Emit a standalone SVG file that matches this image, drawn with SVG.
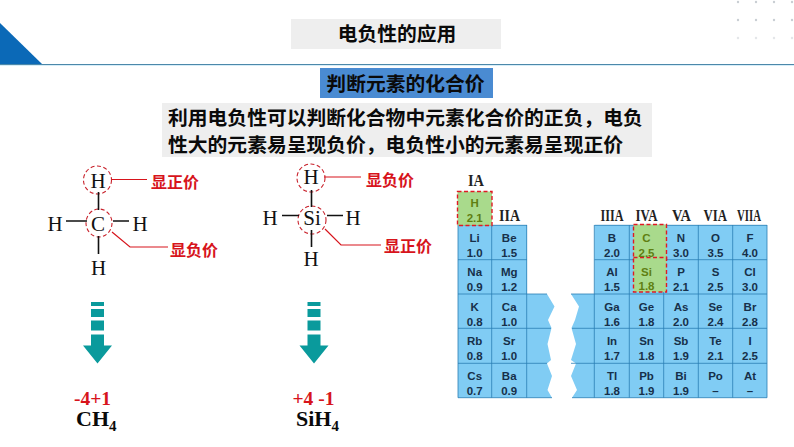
<svg xmlns="http://www.w3.org/2000/svg" width="794" height="447" viewBox="0 0 794 447">
<style>
.cjk{font-family:"Noto Sans CJK SC","Noto Sans",sans-serif;font-weight:700;fill:#0a0a0a}
.head{font-size:19.8px;text-anchor:middle}
.body{font-size:19.8px}
.red{font-family:"Noto Sans CJK SC","Noto Sans",sans-serif;font-weight:700;font-size:16px;fill:#d7141c}
.atom{font-family:"Liberation Serif",serif;font-size:21px;fill:#111;text-anchor:middle}
.bond{stroke:#111;stroke-width:1.6;fill:none}
.lead{stroke:#d7141c;stroke-width:1.2;fill:none}
.ring{stroke:#c8202a;stroke-width:1.1;stroke-dasharray:4 2.5;fill:none}
.charge{font-family:"Liberation Serif",serif;font-weight:700;font-size:19.5px;fill:#d7141c}
.formula{font-family:"Liberation Serif",serif;font-weight:700;font-size:22px;fill:#0a0a0a}
.sub{font-size:15px}
.bar{fill:#0a9a9c}
.cell{font-family:"Liberation Sans",Arial,sans-serif;font-weight:700;font-size:11.5px;fill:#17304a;text-anchor:middle}
.grn{fill:#5f7f12}
.grid{stroke:#2a7db4;stroke-width:.8;fill:none}
.grp{font-family:"Liberation Serif",serif;font-weight:700;font-size:16px;fill:#222}
.dash{fill:#a9da8c;stroke:#e01a24;stroke-width:1.4;stroke-dasharray:4 2.5}
.dot{fill:#c9ced3}
</style>
<rect width="794" height="447" fill="#fff"/>
<g id="decor">
<path d="M0 23L42 64H0Z" fill="#0b69b7"/>
<rect x="0" y="64" width="794" height="1" fill="#4c88aa"/>
<rect x="0" y="65" width="794" height="1" fill="#d6edf8"/>
<g class="dot"><circle cx="738" cy="2" r="1.2"/><circle cx="756" cy="2" r="1.2"/><circle cx="774" cy="2" r="1.2"/><circle cx="792" cy="2" r="1.2"/><circle cx="738" cy="20" r="1.2"/><circle cx="756" cy="20" r="1.2"/><circle cx="774" cy="20" r="1.2"/><circle cx="792" cy="20" r="1.2"/></g>
<g class="dot" opacity=".5"><circle cx="738" cy="38" r="1.2"/><circle cx="756" cy="38" r="1.2"/><circle cx="774" cy="38" r="1.2"/><circle cx="792" cy="38" r="1.2"/></g>
</g>
<g id="title"><rect x="291" y="19" width="210" height="30" fill="#eeeeee"/><text class="cjk head" x="397" y="41">电负性的应用</text></g>
<g id="subtitle"><rect x="320" y="68" width="173" height="30" fill="#4a8bd2"/><text class="cjk head" x="405.500" y="91">判断元素的化合价</text></g>
<g id="description"><rect x="162" y="103" width="490" height="54" fill="#eeeeee"/>
<text class="cjk body" x="168" y="125">利用电负性可以判断化合物中元素化合价的正负，电负</text>
<text class="cjk body" x="168" y="152">性大的元素易呈现负价，电负性小的元素易呈现正价</text></g>

<g id="ch4">
<circle class="ring" cx="97.500" cy="180" r="14"/><ellipse class="ring" cx="99" cy="223" rx="13" ry="14"/>
<path class="bond" d="M98.500 192V210M98.500 236V254M66 221H87M113 221H129"/>
<text class="atom" x="98" y="188">H</text><text class="atom" x="55" y="231">H</text><text class="atom" x="98" y="231">C</text><text class="atom" x="140" y="231">H</text><text class="atom" x="98.500" y="275">H</text>
<path class="lead" d="M112 179.500H147M112 232L130 247H168"/>
<text class="red" x="151" y="188">显正价</text><text class="red" x="170" y="256">显负价</text>
</g>
<g id="sih4">
<circle class="ring" cx="311" cy="178" r="14"/><circle class="ring" cx="312" cy="220" r="14"/>
<path class="bond" d="M311.500 190V207M311.500 230V247M282 215.500H299M327 215.500H343"/>
<text class="atom" x="311" y="184">H</text><text class="atom" x="270" y="225">H</text><text class="atom" x="312" y="225">Si</text><text class="atom" x="353" y="225">H</text><text class="atom" x="311" y="266">H</text>
<path class="lead" d="M324 177H361M325 229L341 245H381"/>
<text class="red" x="366" y="186">显负价</text><text class="red" x="384" y="252">显正价</text>
</g>

<g id="arrow-ch4" class="bar"><rect x="91" y="302" width="13" height="4"/><rect x="91" y="309" width="13" height="8"/><rect x="91" y="320.500" width="13" height="10"/><path d="M91 334.500H104V345.500H112L97.500 363.500L83 345.500H91Z"/></g>
<g id="arrow-sih4" class="bar"><rect x="307.500" y="302" width="13" height="4"/><rect x="307.500" y="309" width="13" height="8"/><rect x="307.500" y="320.500" width="13" height="10"/><path d="M307.500 334.500H320.500V345.500H328.500L314 363.500L299.500 345.500H307.500Z"/></g>

<g id="formula-ch4"><text class="charge" x="74" y="405">-4+1</text><text class="formula" x="76" y="426">CH<tspan class="sub" dy="5">4</tspan></text></g>
<g id="formula-sih4"><text class="charge" x="292.500" y="405" xml:space="preserve">+4 -1</text><text class="formula" x="296" y="426">SiH<tspan class="sub" dy="5">4</tspan></text></g>

<g id="periodic-table">
<path d="M458 225H527V294H547L554.500 306.500L548 320L551.500 328L547.500 344L551 360L547 363.500L552 376L547.500 390L552 397.700H458Z" fill="#80ccf4"/>
<path d="M594.500 225H767V397.700H572L577 390L571 376L576 363.500L571 360L576 344L571.500 328L575 320L579 306.500L571 294H594.500Z" fill="#80ccf4"/>
<path class="grid" d="M458 225.300H527M594.500 225.300H767M458 259.700H527M594.500 259.700H767M458 294H547M571 294H767M458 328.300H551M572 328.300H767M458 363.300H547M571 363.300H767M458 397.700H552M572 397.700H767"/>
<path class="grid" d="M458 225V397.700M491.700 225V397.700M526.700 225V397.700M594.300 225V397.700M629.300 225V397.700M663.700 225V397.700M698.300 225V397.700M732.700 225V397.700M767 225V397.700"/>
<rect class="dash" x="457.500" y="191.500" width="34.500" height="34"/>
<rect class="dash" x="633.500" y="224.500" width="33" height="35"/>
<rect class="dash" x="633.500" y="257.500" width="33" height="34.500"/>
<g class="grp"><text x="468" y="186" textLength="16" lengthAdjust="spacingAndGlyphs">IA</text><text x="499" y="221" textLength="21" lengthAdjust="spacingAndGlyphs">IIA</text><text x="600.500" y="221" textLength="23" lengthAdjust="spacingAndGlyphs">IIIA</text><text x="635.500" y="221" textLength="22" lengthAdjust="spacingAndGlyphs">IVA</text><text x="672" y="221" textLength="19" lengthAdjust="spacingAndGlyphs">VA</text><text x="703.500" y="221" textLength="23.500" lengthAdjust="spacingAndGlyphs">VIA</text><text x="737" y="221" textLength="24" lengthAdjust="spacingAndGlyphs">VIIA</text></g>
<g class="cell"><text class="cell grn" x="474.700" y="207">H</text><text class="cell grn" x="474.700" y="222">2.1</text><text class="cell grn" x="646.500" y="241.500">C</text><text class="cell grn" x="646.500" y="256.500">2.5</text><text class="cell grn" x="646.500" y="275.500">Si</text><text class="cell grn" x="646.500" y="290">1.8</text></g>
<g class="cell">
<text x="474.700" y="241.500">Li</text><text x="474.700" y="256.500">1.0</text><text x="509.200" y="241.500">Be</text><text x="509.200" y="256.500">1.5</text>
<text x="474.700" y="276">Na</text><text x="474.700" y="291">0.9</text><text x="509.200" y="276">Mg</text><text x="509.200" y="291">1.2</text>
<text x="474.700" y="310.500">K</text><text x="474.700" y="325.500">0.8</text><text x="509.200" y="310.500">Ca</text><text x="509.200" y="325.500">1.0</text>
<text x="474.700" y="345">Rb</text><text x="474.700" y="360">0.8</text><text x="509.200" y="345">Sr</text><text x="509.200" y="360">1.0</text>
<text x="474.700" y="379.500">Cs</text><text x="474.700" y="394.500">0.7</text><text x="509.200" y="379.500">Ba</text><text x="509.200" y="394.500">0.9</text>
<text x="612" y="241.500">B</text><text x="612" y="256.500">2.0</text><text x="681" y="241.500">N</text><text x="681" y="256.500">3.0</text><text x="715.500" y="241.500">O</text><text x="715.500" y="256.500">3.5</text><text x="750" y="241.500">F</text><text x="750" y="256.500">4.0</text>
<text x="612" y="276">Al</text><text x="612" y="291">1.5</text><text x="681" y="276">P</text><text x="681" y="291">2.1</text><text x="715.500" y="276">S</text><text x="715.500" y="291">2.5</text><text x="750" y="276">Cl</text><text x="750" y="291">3.0</text>
<text x="612" y="310.500">Ga</text><text x="612" y="325.500">1.6</text><text x="646.500" y="310.500">Ge</text><text x="646.500" y="325.500">1.8</text><text x="681" y="310.500">As</text><text x="681" y="325.500">2.0</text><text x="715.500" y="310.500">Se</text><text x="715.500" y="325.500">2.4</text><text x="750" y="310.500">Br</text><text x="750" y="325.500">2.8</text>
<text x="612" y="345">In</text><text x="612" y="360">1.7</text><text x="646.500" y="345">Sn</text><text x="646.500" y="360">1.8</text><text x="681" y="345">Sb</text><text x="681" y="360">1.9</text><text x="715.500" y="345">Te</text><text x="715.500" y="360">2.1</text><text x="750" y="345">I</text><text x="750" y="360">2.5</text>
<text x="612" y="379.500">Tl</text><text x="612" y="394.500">1.8</text><text x="646.500" y="379.500">Pb</text><text x="646.500" y="394.500">1.9</text><text x="681" y="379.500">Bi</text><text x="681" y="394.500">1.9</text><text x="715.500" y="379.500">Po</text><text x="715.500" y="394.500">–</text><text x="750" y="379.500">At</text><text x="750" y="394.500">–</text>
</g>
</g>
</svg>
